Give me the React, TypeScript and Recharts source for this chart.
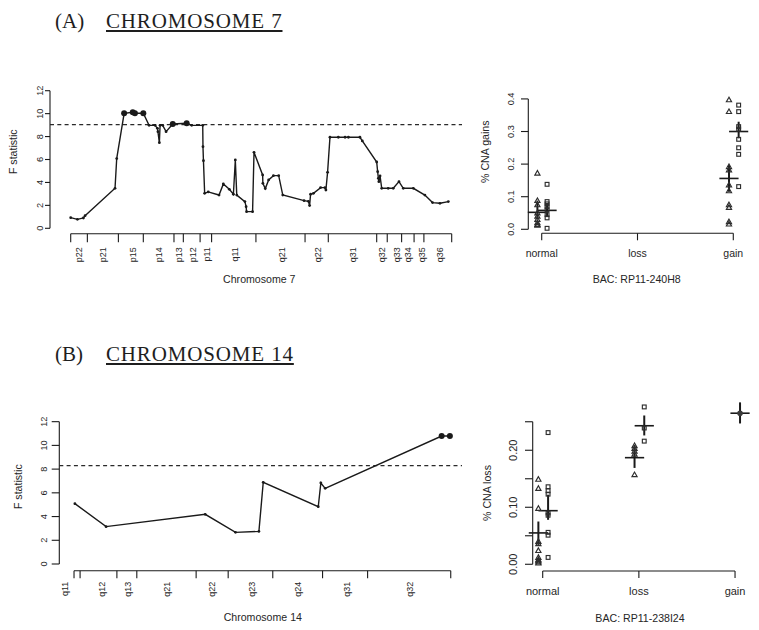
import {
  LineChart,
  Line,
  ScatterChart,
  Scatter,
  XAxis,
  YAxis,
  ReferenceLine,
  ErrorBar,
} from 'recharts';

// panel A: chromosome 7 scan (position in Mb, F statistic)
const chr7Pos = [
  0, 2.8, 5.3, 6.0, 18.5, 19.2, 22.3, 25.9, 26.8, 30.3, 32.7, 35.2, 36.2, 36.4, 37.0, 37.3, 38.4, 39.8,
  42.6, 48.4, 50.5, 55.1, 55.2, 55.4, 55.9, 57.4, 61.9, 63.7, 66.2, 67.9, 68.7, 69.3, 72.7, 73.2, 73.4,
  75.9, 76.5, 80.1, 80.2, 81.2, 82.6, 84.6, 86.8, 88.5, 97.4, 99.2, 99.7, 100.1, 101.3, 104.3, 106.1,
  106.5, 107.2, 108.2, 111.7, 114.5, 115.9, 120.7, 121.7, 127.7, 128.1, 128.4, 128.6, 129.1, 129.8,
  132.5, 134.6, 137.0, 138.8, 143.0, 147.8, 151.0, 154.1, 157.6,
];
const chr7F = [
  0.93, 0.78, 0.9, 1.1, 3.49, 6.08, 10.03, 10.12, 10.03, 10.03, 8.98, 8.98, 8.72, 8.43, 7.47, 8.98, 8.98,
  8.43, 9.1, 9.16, 8.98, 8.98, 7.12, 5.9, 3.05, 3.17, 2.9, 3.87, 3.4, 2.97, 5.96, 2.9, 2.33, 1.89, 1.45,
  1.45, 6.63, 4.65, 3.92, 3.46, 4.22, 4.59, 4.59, 2.9, 2.41, 2.35, 1.98, 2.97, 3.05, 3.55, 3.55, 3.34,
  4.88, 7.94, 7.94, 7.94, 7.94, 7.94, 7.62, 5.78, 4.94, 4.36, 4.07, 4.56, 3.49, 3.49, 3.49, 4.07, 3.49,
  3.49, 2.9, 2.24, 2.18, 2.33,
];
const chr7Cutoff = 9.05;
const chr7BandEdges = [0, 6.95, 19.9, 30.3, 43.1, 47.0, 54.0, 58.8, 77.3, 97.8, 107.5, 127.7, 132.1, 138.1, 143.3, 147.4, 159.0];
const chr7BandMids = [3.5, 13.6, 25.9, 37.0, 45.3, 50.9, 56.7, 68.6, 88.0, 103.3, 117.9, 129.8, 136.0, 140.9, 146.5, 154.1];
const chr7Bands = ['p22', 'p21', 'p15', 'p14', 'p13', 'p12', 'p11', 'q11', 'q21', 'q22', 'q31', 'q32', 'q33', 'q34', 'q35', 'q36'];

// panel B: chromosome 14 scan
const chr14Pos = [19.2, 26.4, 49.3, 56.3, 61.7, 62.7, 75.4, 76.0, 77.0, 103.9, 105.8];
const chr14F = [5.09, 3.15, 4.19, 2.67, 2.75, 6.89, 4.83, 6.83, 6.38, 10.79, 10.79];
const chr14Cutoff = 8.29;
const chr14BandEdges = [19.0, 20.4, 28.9, 33.5, 47.2, 54.6, 64.9, 76.4, 86.8, 106.0];
const chr14BandMids = [16.9, 25.4, 31.5, 40.4, 50.8, 60.0, 70.8, 82.0, 96.6];
const chr14Bands = ['q11', 'q12', 'q13', 'q21', 'q22', 'q23', 'q24', 'q31', 'q32'];

const cnaGroups = ['normal', 'loss', 'gain'];

// BAC RP11-240H8, % CNA gains (1 = normal, 3 = gain)
const gainNormalTri = [0.172, 0.088, 0.075, 0.05, 0.04, 0.03, 0.02, 0.015, 0.012];
const gainNormalSq = [0.138, 0.085, 0.078, 0.07, 0.06, 0.045, 0.035, 0.003];
const gainGainTri = [0.397, 0.361, 0.192, 0.182, 0.136, 0.118, 0.075, 0.067, 0.023, 0.016];
const gainGainSq = [0.381, 0.361, 0.315, 0.307, 0.276, 0.25, 0.23, 0.131];
const gainMeanGroup = [1, 1, 3, 3];
const gainMeanMark = ['tri', 'sq', 'tri', 'sq'];
const gainMean = [0.052, 0.058, 0.156, 0.3];
const gainLo = [0.03, 0.04, 0.115, 0.279];
const gainHi = [0.088, 0.078, 0.197, 0.33];

// BAC RP11-238I24, % CNA loss
const lossNormalTri = [0.149, 0.133, 0.098, 0.04, 0.036, 0.024, 0.012, 0.008, 0.006, 0.004, 0.002];
const lossNormalSq = [0.231, 0.136, 0.129, 0.123, 0.09, 0.086, 0.056, 0.051, 0.012];
const lossLossTri = [0.208, 0.203, 0.198, 0.193, 0.157];
const lossLossSq = [0.276, 0.239, 0.216];
const lossGainDot = [0.265];
const lossMeanGroup = [1, 1, 2, 2, 3];
const lossMeanMark = ['tri', 'sq', 'tri', 'sq', 'dot'];
const lossMean = [0.055, 0.094, 0.187, 0.243, 0.265];
const lossLo = [0.034, 0.078, 0.169, 0.226, 0.247];
const lossHi = [0.075, 0.122, 0.209, 0.261, 0.284];

const FONT = '"Liberation Sans", Arial, Helvetica, sans-serif';
const SERIF = '"Liberation Serif", "Times New Roman", Times, serif';
const INK = '#1a1a1a';
const TEXT = '#262626';

const jitter: Record<string, number> = { tri: -0.045, sq: 0.056, dot: 0.052 };

const scan = (pos: number[], f: number[], cut: number) =>
  pos.map((p, i) => ({ pos: p, f: f[i], hit: f[i] > cut }));

const pts = (vals: number[], group: number, mark: string) =>
  vals.map((v) => ({ x: group + jitter[mark], y: v }));

const means = (groups: number[], marks: string[], m: number[], lo: number[], hi: number[]) =>
  m.map((v, i) => ({ x: groups[i] + jitter[marks[i]], y: v, ey: [v - lo[i], hi[i] - v], ex: 0.1 }));

const axisTitle = (text: string, x: number, y: number, vertical = false) => () => (
  <text
    x={x}
    y={y}
    transform={vertical ? `rotate(-90 ${x} ${y})` : undefined}
    textAnchor="middle"
    dominantBaseline="central"
    fontSize={10.6}
    fill={TEXT}
    fontFamily={FONT}
  >
    {text}
  </text>
);

// y tick labels in R style: turned to read upwards
const yTick = (gap: number, size: number, fmt: (v: number) => string, show?: (i: number) => boolean) =>
  (p: any) => {
    if (show && !show(p.index)) return <g />;
    const bx = p.x - gap;
    return (
      <text x={bx} y={p.y} transform={`rotate(-90 ${bx} ${p.y})`} textAnchor="middle" fontSize={size} fill={TEXT} fontFamily={FONT}>
        {fmt(p.payload.value)}
      </text>
    );
  };

const scanDot = (p: any) => (
  <circle key={`d${p.index}`} cx={p.cx} cy={p.cy} r={p.payload.hit ? 3 : 1.4} fill={INK} />
);

function ScanPanel(props: any) {
  const { data, cutoff, edges, mids, names, xDomain, yDomain, margin, yWidth, yTickLen, yGap, edgeLen, labelGap, yTitle, xTitle } = props;
  const midName = new Map<number, string>(mids.map((m: number, i: number) => [m, names[i]]));
  const bandTick = (p: any) => {
    const name = midName.get(p.payload.value);
    if (name) {
      const ty = p.y + labelGap;
      return (
        <text x={p.x} y={ty} transform={`rotate(-90 ${p.x} ${ty})`} textAnchor="end" dominantBaseline="central" fontSize={9} fill={TEXT} fontFamily={FONT}>
          {name}
        </text>
      );
    }
    return <line x1={p.x} x2={p.x} y1={p.y} y2={p.y + edgeLen} stroke={INK} strokeWidth={1.1} />;
  };
  return (
    <LineChart width={470} height={290} data={data} margin={margin}>
      <XAxis
        type="number"
        dataKey="pos"
        domain={xDomain}
        allowDataOverflow
        ticks={[...edges, ...mids]}
        interval={0}
        tick={bandTick}
        tickLine={false}
        axisLine={false}
        tickSize={0}
        tickMargin={0}
        height={45}
        label={xTitle}
      />
      <YAxis
        type="number"
        domain={yDomain}
        allowDataOverflow
        ticks={[0, 2, 4, 6, 8, 10, 12]}
        interval={0}
        width={yWidth}
        tickSize={yTickLen}
        tickMargin={0}
        axisLine={false}
        tickLine={{ stroke: INK, strokeWidth: 1.1 }}
        tick={yTick(yGap, 9.2, (v) => String(v))}
        label={yTitle}
      />
      <ReferenceLine
        segment={[{ x: edges[0], y: yDomain[0] }, { x: edges[edges.length - 1], y: yDomain[0] }]}
        stroke={INK}
        strokeWidth={1.1}
        ifOverflow="visible"
      />
      <ReferenceLine segment={[{ x: xDomain[0], y: 0 }, { x: xDomain[0], y: 12 }]} stroke={INK} strokeWidth={1.1} ifOverflow="visible" />
      <ReferenceLine y={cutoff} stroke="#2a2a2a" strokeWidth={1.3} strokeDasharray="4 3.3" ifOverflow="visible" />
      <Line
        type="linear"
        dataKey="f"
        stroke={INK}
        strokeWidth={1.4}
        dot={scanDot}
        activeDot={false}
        isAnimationActive={false}
      />
    </LineChart>
  );
}

const Tri = (p: any) => (
  <polygon
    points={`${p.cx},${p.cy - 2.7} ${p.cx - 2.6},${p.cy + 1.9} ${p.cx + 2.6},${p.cy + 1.9}`}
    fill="none"
    stroke="#2e2e2e"
    strokeWidth={1.15}
  />
);
const Sq = (p: any) => (
  <rect x={p.cx - 1.9} y={p.cy - 1.9} width={3.8} height={3.8} fill="none" stroke="#2e2e2e" strokeWidth={1.15} />
);
const Dot = (p: any) => <circle cx={p.cx} cy={p.cy} r={2.8} fill="#3a3a3a" />;
const Blank = () => <g />;

function CnaPanel(props: any) {
  const { tri, sq, dot, avg, xDomain, yDomain, yTicks, yMax, yFmt, showTick, margin, yWidth, yTickLen, yGap, yFont, xFont, xAxisH, yTitle, xTitle } = props;
  const groupTick = (p: any) => (
    <text x={p.x} y={p.y + 13} textAnchor="middle" dominantBaseline="central" fontSize={xFont} fill={TEXT} fontFamily={FONT}>
      {cnaGroups[p.payload.value - 1]}
    </text>
  );
  return (
    <ScatterChart width={299} height={290} margin={margin}>
      <XAxis
        type="number"
        dataKey="x"
        domain={xDomain}
        allowDataOverflow
        ticks={[1, 2, 3]}
        interval={0}
        axisLine={false}
        tickLine={{ stroke: INK, strokeWidth: 1.1 }}
        tickSize={7}
        tickMargin={0}
        height={xAxisH}
        tick={groupTick}
        label={xTitle}
      />
      <YAxis
        type="number"
        dataKey="y"
        domain={yDomain}
        allowDataOverflow
        ticks={yTicks}
        interval={0}
        width={yWidth}
        axisLine={false}
        tickLine={{ stroke: INK, strokeWidth: 1.1 }}
        tickSize={yTickLen}
        tickMargin={0}
        tick={yTick(yGap, yFont, yFmt, showTick)}
        label={yTitle}
      />
      <ReferenceLine segment={[{ x: 1, y: yDomain[0] }, { x: 3, y: yDomain[0] }]} stroke={INK} strokeWidth={1.1} ifOverflow="visible" />
      <ReferenceLine segment={[{ x: xDomain[0], y: 0 }, { x: xDomain[0], y: yMax }]} stroke={INK} strokeWidth={1.1} ifOverflow="visible" />
      <Scatter data={tri} shape={Tri} isAnimationActive={false} />
      <Scatter data={sq} shape={Sq} isAnimationActive={false} />
      <Scatter data={avg} shape={Blank} isAnimationActive={false}>
        <ErrorBar dataKey="ey" direction="y" width={0} stroke={INK} strokeWidth={2} isAnimationActive={false} />
        <ErrorBar dataKey="ex" direction="x" width={0} stroke={INK} strokeWidth={1.6} isAnimationActive={false} />
      </Scatter>
      {dot ? <Scatter data={dot} shape={Dot} isAnimationActive={false} /> : null}
    </ScatterChart>
  );
}

function Heading({ top, tag, title }: { top: number; tag: string; title: string }) {
  const base: any = { position: 'absolute', top, fontFamily: SERIF, fontSize: 21, lineHeight: '21px', color: '#1e1e1e', whiteSpace: 'nowrap' };
  return (
    <>
      <span style={{ ...base, left: 55 }}>{tag}</span>
      <span
        style={{
          ...base,
          left: 106,
          letterSpacing: '0.85px',
          textDecoration: 'underline',
          textUnderlineOffset: '2px',
          textDecorationThickness: '1.6px',
        }}
      >
        {title}
      </span>
    </>
  );
}

export default function App() {
  const chr7 = scan(chr7Pos, chr7F, chr7Cutoff);
  const chr14 = scan(chr14Pos, chr14F, chr14Cutoff);

  return (
    <div style={{ position: 'absolute', left: 0, top: 0, width: 759, height: 630, background: '#fff', overflow: 'hidden' }}>
      <Heading top={10.7} tag="(A)" title="CHROMOSOME 7" />
      <Heading top={344.1} tag="(B)" title="CHROMOSOME 14" />

      <div style={{ position: 'absolute', left: 0, top: 0 }}>
        <ScanPanel
          data={chr7}
          cutoff={chr7Cutoff}
          edges={chr7BandEdges}
          mids={chr7BandMids}
          names={chr7Bands}
          xDomain={[-8.64, 163.3]}
          yDomain={[-0.48, 12.48]}
          margin={{ top: 85.2, right: 8, bottom: 11.2, left: 0 }}
          yWidth={50}
          yTickLen={5}
          yGap={1.7}
          edgeLen={8.4}
          labelGap={13.4}
          yTitle={axisTitle('F statistic', 13.3, 151.7, true)}
          xTitle={axisTitle('Chromosome 7', 259.3, 279)}
        />
      </div>

      <div style={{ position: 'absolute', left: 0, top: 340 }}>
        <ScanPanel
          data={chr14}
          cutoff={chr14Cutoff}
          edges={chr14BandEdges}
          mids={chr14BandMids}
          names={chr14Bands}
          xDomain={[15.6, 108.6]}
          yDomain={[-0.565, 12.495]}
          margin={{ top: 75.8, right: 8, bottom: 14.3, left: 0 }}
          yWidth={59.3}
          yTickLen={7.6}
          yGap={5}
          edgeLen={7.6}
          labelGap={11}
          yTitle={axisTitle('F statistic', 17.7, 146.7, true)}
          xTitle={axisTitle('Chromosome 14', 262.8, 276.7)}
        />
      </div>

      <div style={{ position: 'absolute', left: 460, top: 0 }}>
        <CnaPanel
          tri={[...pts(gainNormalTri, 1, 'tri'), ...pts(gainGainTri, 3, 'tri')]}
          sq={[...pts(gainNormalSq, 1, 'sq'), ...pts(gainGainSq, 3, 'sq')]}
          avg={means(gainMeanGroup, gainMeanMark, gainMean, gainLo, gainHi)}
          xDomain={[0.86, 3.14]}
          yDomain={[-0.0123, 0.47]}
          yTicks={[0, 0.1, 0.2, 0.3, 0.4]}
          yMax={0.4}
          yFmt={(v: number) => v.toFixed(1)}
          margin={{ top: 76.1, right: 12.3, bottom: 6.7, left: 0 }}
          yWidth={68.3}
          yTickLen={7.3}
          yGap={7}
          yFont={9.2}
          xFont={10.5}
          xAxisH={50}
          yTitle={axisTitle('% CNA gains', 25, 151.7, true)}
          xTitle={axisTitle('BAC: RP11-240H8', 176.7, 279.3)}
        />
      </div>

      <div style={{ position: 'absolute', left: 460, top: 340 }}>
        <CnaPanel
          tri={[...pts(lossNormalTri, 1, 'tri'), ...pts(lossLossTri, 2, 'tri')]}
          sq={[...pts(lossNormalSq, 1, 'sq'), ...pts(lossLossSq, 2, 'sq')]}
          dot={pts(lossGainDot, 3, 'dot')}
          avg={means(lossMeanGroup, lossMeanMark, lossMean, lossLo, lossHi)}
          xDomain={[0.896, 3.14]}
          yDomain={[-0.0118, 0.295]}
          yTicks={[0, 0.05, 0.1, 0.15, 0.2, 0.25]}
          yMax={0.25}
          yFmt={(v: number) => v.toFixed(2)}
          showTick={(i: number) => i % 2 === 0}
          margin={{ top: 56.1, right: 10.5, bottom: 14, left: 0 }}
          yWidth={72.7}
          yTickLen={7.7}
          yGap={8.3}
          yFont={11}
          xFont={11}
          xAxisH={45}
          yTitle={axisTitle('% CNA loss', 26.7, 153, true)}
          xTitle={axisTitle('BAC: RP11-238I24', 180, 277.7)}
        />
      </div>
    </div>
  );
}
